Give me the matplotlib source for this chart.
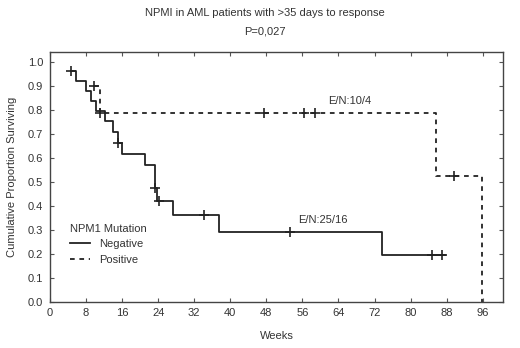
import matplotlib
matplotlib.use("Agg")
import matplotlib.pyplot as plt

plt.rcParams['font.family'] = ['Liberation Sans', 'DejaVu Sans']

# Kaplan-Meier steps (week where the value starts, survival)
neg_weeks = [4.6, 5.7, 7.9, 9.0, 10.1, 12.1, 13.9, 15.0, 15.9, 21.1, 23.3, 23.8, 27.3, 37.4, 73.7, 87.6]
neg_surv = [0.96, 0.918, 0.876, 0.835, 0.793, 0.751, 0.705, 0.661, 0.614, 0.567, 0.472, 0.42, 0.36, 0.288, 0.192, 0.192]
neg_cens_weeks = [4.6, 15.0, 23.3, 24.1, 34.1, 53.3, 84.8, 86.9]
neg_cens_surv = [0.96, 0.661, 0.472, 0.42, 0.36, 0.288, 0.192, 0.192]

pos_weeks = [9.8, 11.1, 85.7, 95.8]
pos_surv = [0.90, 0.7875, 0.525, 0.0]
pos_cens_weeks = [9.8, 11.1, 47.4, 56.4, 58.8, 89.6]
pos_cens_surv = [0.90, 0.7875, 0.7875, 0.7875, 0.7875, 0.525]

x_ticks = list(range(0, 97, 8))
y_ticks = [i / 10 for i in range(11)]

ink = "#222222"
txt = "#333333"

fig = plt.figure(figsize=(5.2, 3.48), dpi=100)
ax = fig.add_axes([50 / 520, 1 - 301.5 / 348, 453 / 520, 249.5 / 348])

ax.step(neg_weeks, neg_surv, where="post", color=ink, lw=1.3, label="Negative")
ax.step(pos_weeks, pos_surv, where="post", color=ink, lw=1.3, linestyle=(0, (2.6, 2.6)), label="Positive")
ax.plot(neg_cens_weeks, neg_cens_surv, "+", color=ink, ms=7, mew=1.2)
ax.plot(pos_cens_weeks, pos_cens_surv, "+", color=ink, ms=7, mew=1.2)

ax.set_xlim(0, 100.5)
ax.set_ylim(0, 1.04)
ax.set_xticks(x_ticks)
ax.set_yticks(y_ticks)
ax.set_yticklabels([f"{v:.1f}" for v in y_ticks])
ax.tick_params(direction="in", length=3, width=0.8, color="#555555", labelsize=8, labelcolor=txt,
               top=True, right=True, pad=5)
for s in ax.spines.values():
    s.set_color("#444444")
    s.set_linewidth(1.0)

ax.set_xlabel("Weeks", fontsize=8, color=txt, labelpad=9)
ax.set_ylabel("Cumulative Proportion Surviving", fontsize=8, color=txt, labelpad=8)

fig.text(0.51, 1 - 13 / 348, "NPMI in AML patients with >35 days to response", ha="center", va="center",
         fontsize=8, color=txt)
fig.text(0.51, 1 - 31 / 348, "P=0,027", ha="center", va="center", fontsize=8, color=txt)

ax.text(66.5, 0.835, "E/N:10/4", ha="center", va="center", fontsize=8, color=txt)
ax.text(60.5, 0.34, "E/N:25/16", ha="center", va="center", fontsize=8, color=txt)

leg = ax.legend(loc="lower left", bbox_to_anchor=(0.035, 0.13), frameon=False, fontsize=8,
                title="NPM1 Mutation", title_fontsize=8, handlelength=1.8, handletextpad=0.8,
                labelspacing=0.5, borderaxespad=0)
leg._legend_box.align = "left"
for t in leg.get_texts():
    t.set_color(txt)
leg.get_title().set_color(txt)

fig.savefig("out.png", dpi=100)
